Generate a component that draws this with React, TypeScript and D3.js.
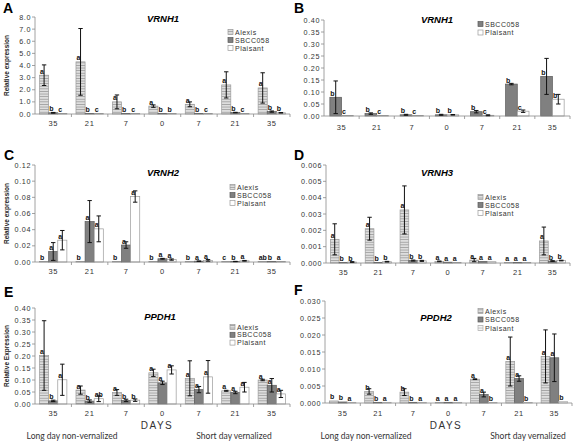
import React from "react";
import * as d3 from "d3";

const DAYS = ["35", "21", "7", "0", "7", "21", "35"];

// Panel A: VRNH1
const A_ALEXIS = [3.2, 4.3, 1.0, 0.65, 0.8, 2.4, 2.15];
const A_ALEXIS_ERR = [0.85, 2.75, 0.57, 0.1, 0.2, 1.08, 1.25];
const A_SBCC = [0.1, 0.02, 0.02, 0.02, 0.02, 0.12, 0.2];
const A_SBCC_ERR = [0.03, 0, 0, 0, 0, 0.02, 0.05];
const A_PLAISANT = [0.02, 0.02, 0.02, 0.02, 0.02, 0.02, 0.1];
const A_PLAISANT_ERR = [0, 0, 0, 0, 0, 0, 0.02];
const A_L_ALEXIS = ["a", "a", "a", "a", "a", "a", "a"];
const A_L_SBCC = ["b", "b", "b", "b", "b", "b", "b"];
const A_L_PLAISANT = ["c", "c", "c", "b", "c", "c", "b"];

// Panel B: VRNH1 (zoom)
const B_SBCC = [0.078, 0.01, 0.005, 0.005, 0.018, 0.133, 0.165];
const B_SBCC_ERR = [0.068, 0.003, 0.002, 0.002, 0.005, 0.003, 0.075];
const B_PLAISANT = [0.001, 0.001, 0.001, 0.005, 0.003, 0.02, 0.07];
const B_PLAISANT_ERR = [0, 0, 0, 0.001, 0.002, 0.005, 0.02];
const B_L_SBCC = ["b", "b", "b", "b", "b", "b", "b"];
const B_L_PLAISANT = ["c", "c", "c", "b", "c", "c", "b"];

// Panel C: VRNH2
const C_ALEXIS = [0.0004, 0.0004, 0.0004, 0.0004, 0.0003, 0.0003, 0.0003];
const C_ALEXIS_ERR = [0, 0, 0, 0, 0, 0, 0];
const C_SBCC = [0.013, 0.05, 0.021, 0.004, 0.001, 0.0006, 0.0003];
const C_SBCC_ERR = [0.011, 0.026, 0.004, 0.0005, 0.0003, 0.0002, 0];
const C_PLAISANT = [0.027, 0.041, 0.081, 0.003, 0.002, 0.0015, 0.0004];
const C_PLAISANT_ERR = [0.012, 0.016, 0.007, 0.0008, 0.001, 0.0004, 0];
const C_L_ALEXIS = ["b", "b", "b", "b", "b", "c", "ab"];
const C_L_SBCC = ["a", "a", "a", "a", "a", "b", "b"];
const C_L_PLAISANT = ["a", "a", "a", "a", "a", "a", "a"];

// Panel D: VRNH3
const D_ALEXIS = [0.00145, 0.0021, 0.00325, 0.0001, 0.00018, 0.00004, 0.00135];
const D_ALEXIS_ERR = [0.00095, 0.0007, 0.00147, 0.00002, 0.0001, 0, 0.00085];
const D_SBCC = [0.00003, 0.00003, 0.00015, 0.00005, 0.0001, 0.00003, 0.00012];
const D_SBCC_ERR = [0, 0, 0.00003, 0, 0, 0, 0.00002];
const D_PLAISANT = [0.00006, 0.00008, 0.00013, 0.00004, 0.00008, 0.00003, 0.00015];
const D_PLAISANT_ERR = [0.00002, 0.00002, 0.00003, 0, 0, 0, 0.00002];
const D_L_ALEXIS = ["a", "a", "a", "a", "a", "a", "a"];
const D_L_SBCC = ["b", "b", "b", "a", "a", "a", "b"];
const D_L_PLAISANT = ["b", "b", "b", "a", "a", "a", "b"];

// Panel E: PPDH1
const E_ALEXIS = [0.202, 0.058, 0.048, 0.13, 0.107, 0.055, 0.1];
const E_ALEXIS_ERR = [0.145, 0.017, 0.012, 0.015, 0.073, 0.002, 0.003];
const E_SBCC = [0.013, 0.012, 0.015, 0.088, 0.06, 0.048, 0.078];
const E_SBCC_ERR = [0.003, 0.005, 0.005, 0.007, 0.013, 0.005, 0.028];
const E_PLAISANT = [0.101, 0.022, 0.016, 0.142, 0.113, 0.07, 0.042];
const E_PLAISANT_ERR = [0.065, 0.012, 0.005, 0.017, 0.068, 0.02, 0.015];
const E_L_ALEXIS = ["a", "a", "a", "a", "a", "a", "a"];
const E_L_SBCC = ["b", "b", "b", "a", "a", "a", "a"];
const E_L_PLAISANT = ["a", "ab", "b", "a", "a", "a", "a"];

// Panel F: PPDH2
const F_ALEXIS = [0.0006, 0.0034, 0.0032, 0.0002, 0.007, 0.0122, 0.0137];
const F_ALEXIS_ERR = [0, 0.0008, 0.001, 0, 0.0001, 0.0072, 0.0078];
const F_SBCC = [0.0003, 0.0002, 0.0002, 0.0002, 0.0025, 0.0072, 0.0133];
const F_SBCC_ERR = [0, 0, 0, 0, 0.0007, 0.0008, 0.007];
const F_PLAISANT = [0.0002, 0.0002, 0.0002, 0.0002, 0.0001, 0.0001, 0.0004];
const F_PLAISANT_ERR = [0, 0, 0, 0, 0, 0, 0];
const F_L_ALEXIS = ["b", "b", "b", "a", "a", "a", "a"];
const F_L_SBCC = ["b", "b", "b", "a", "a", "a", "a"];
const F_L_PLAISANT = ["a", "a", "a", "a", "b", "b", "b"];

const STYLE: Record<string, { fill: string; stroke: string }> = {
  Alexis: { fill: "url(#stripe)", stroke: "#9a9a9a" },
  SBCC058: { fill: "#808080", stroke: "#5a5a5a" },
  Plaisant: { fill: "#ffffff", stroke: "#9a9a9a" },
  PlaisantF: { fill: "url(#stripeLight)", stroke: "#b0b0b0" },
};

type Series = { name: string; style: string; values: number[]; errs: number[]; letters: string[] };
type Cfg = {
  letter: string; lx: number; ly: number;
  title: string; tx: number; ty: number;
  x0: number; x1: number; yTop: number; yBot: number;
  max: number; step: number; fmt: string;
  catY: number;
  legX: number; legY: number; legDy: number;
  yTitle?: string; yTitleX?: number;
  series: Series[];
  bottom?: { daysX: number; ldX: number; sdX: number };
};

const mk = (name: string, values: number[], errs: number[], letters: string[], style?: string): Series => ({
  name, values, errs, letters, style: style || name,
});

const PANELS: Cfg[] = [
  {
    letter: "A", lx: 3, ly: 13, title: "VRNH1", tx: 163, ty: 22,
    x0: 35, x1: 290, yTop: 17, yBot: 114, max: 8, step: 1, fmt: ".1f", catY: 126,
    legX: 228, legY: 32, legDy: 8, yTitle: "Relative expression", yTitleX: 9,
    series: [
      mk("Alexis", A_ALEXIS, A_ALEXIS_ERR, A_L_ALEXIS),
      mk("SBCC058", A_SBCC, A_SBCC_ERR, A_L_SBCC),
      mk("Plaisant", A_PLAISANT, A_PLAISANT_ERR, A_L_PLAISANT),
    ],
  },
  {
    letter: "B", lx: 294, ly: 13, title: "VRNH1", tx: 437, ty: 23,
    x0: 324, x1: 570, yTop: 20, yBot: 116, max: 0.4, step: 0.05, fmt: ".2f", catY: 130,
    legX: 478, legY: 24, legDy: 8.5,
    series: [
      mk("SBCC058", B_SBCC, B_SBCC_ERR, B_L_SBCC),
      mk("Plaisant", B_PLAISANT, B_PLAISANT_ERR, B_L_PLAISANT),
    ],
  },
  {
    letter: "C", lx: 4, ly: 160, title: "VRNH2", tx: 163, ty: 176,
    x0: 35, x1: 290, yTop: 165, yBot: 262, max: 0.12, step: 0.02, fmt: ".2f", catY: 274,
    legX: 230, legY: 187, legDy: 8, yTitle: "Relative expression", yTitleX: 9,
    series: [
      mk("Alexis", C_ALEXIS, C_ALEXIS_ERR, C_L_ALEXIS),
      mk("SBCC058", C_SBCC, C_SBCC_ERR, C_L_SBCC),
      mk("Plaisant", C_PLAISANT, C_PLAISANT_ERR, C_L_PLAISANT),
    ],
  },
  {
    letter: "D", lx: 294, ly: 160, title: "VRNH3", tx: 437, ty: 176,
    x0: 326, x1: 570, yTop: 165, yBot: 263, max: 0.006, step: 0.001, fmt: ".3f", catY: 275,
    legX: 478, legY: 197, legDy: 8,
    series: [
      mk("Alexis", D_ALEXIS, D_ALEXIS_ERR, D_L_ALEXIS),
      mk("SBCC058", D_SBCC, D_SBCC_ERR, D_L_SBCC),
      mk("Plaisant", D_PLAISANT, D_PLAISANT_ERR, D_L_PLAISANT),
    ],
  },
  {
    letter: "E", lx: 4, ly: 297, title: "PPDH1", tx: 160, ty: 320,
    x0: 35, x1: 290, yTop: 308, yBot: 404, max: 0.4, step: 0.05, fmt: ".2f", catY: 416,
    legX: 230, legY: 327, legDy: 7.8, yTitle: "Relative Expression", yTitleX: 9,
    series: [
      mk("Alexis", E_ALEXIS, E_ALEXIS_ERR, E_L_ALEXIS),
      mk("SBCC058", E_SBCC, E_SBCC_ERR, E_L_SBCC),
      mk("Plaisant", E_PLAISANT, E_PLAISANT_ERR, E_L_PLAISANT),
    ],
    bottom: { daysX: 157, ldX: 72, sdX: 234 },
  },
  {
    letter: "F", lx: 294, ly: 295, title: "PPDH2", tx: 436, ty: 321,
    x0: 325, x1: 572, yTop: 301, yBot: 403, max: 0.03, step: 0.005, fmt: ".3f", catY: 416,
    legX: 478, legY: 311, legDy: 8.5,
    series: [
      mk("Alexis", F_ALEXIS, F_ALEXIS_ERR, F_L_ALEXIS),
      mk("SBCC058", F_SBCC, F_SBCC_ERR, F_L_SBCC),
      mk("Plaisant", F_PLAISANT, F_PLAISANT_ERR, F_L_PLAISANT, "PlaisantF"),
    ],
    bottom: { daysX: 446, ldX: 366, sdX: 528 },
  },
];

const TICK_FONT = "'Liberation Sans', Arial, sans-serif";

function Panel({ cfg }: { cfg: Cfg }) {
  const idx = d3.range(DAYS.length);
  const x = d3.scaleBand<number>().domain(idx).range([cfg.x0, cfg.x1]);
  const band = x.bandwidth();
  const names = cfg.series.map((s) => s.name);
  const barW = band / (names.length + 1);
  const inner = d3.scaleBand<string>().domain(names).range([barW / 2, band - barW / 2]);
  const y = d3.scaleLinear().domain([0, cfg.max]).range([cfg.yBot, cfg.yTop]);
  const ticks = d3.range(0, cfg.max + cfg.step / 2, cfg.step);
  const fmt = d3.format(cfg.fmt);
  const axisColor = "#8a8a8a";

  return (
    <g>
      <text x={cfg.lx} y={cfg.ly} fontFamily={TICK_FONT} fontWeight="bold" fontSize={14}>{cfg.letter}</text>
      <text x={cfg.tx} y={cfg.ty} textAnchor="middle" fontFamily={TICK_FONT} fontWeight="bold" fontStyle="italic" fontSize={9.5}>{cfg.title}</text>
      {cfg.yTitle && (
        <text transform={`translate(${cfg.yTitleX},${(cfg.yTop + cfg.yBot) / 2}) rotate(-90)`} textAnchor="middle"
          fontFamily={TICK_FONT} fontWeight="bold" fontSize={6.5} fill="#222">{cfg.yTitle}</text>
      )}
      {/* y axis */}
      <line x1={cfg.x0} x2={cfg.x0} y1={cfg.yTop} y2={cfg.yBot} stroke={axisColor} strokeWidth={0.8} />
      {ticks.map((t) => (
        <g key={t}>
          <line x1={cfg.x0 - 3} x2={cfg.x0} y1={y(t)} y2={y(t)} stroke={axisColor} strokeWidth={0.8} />
          <text x={cfg.x0 - 4} y={y(t) + 2.5} textAnchor="end" fontFamily={TICK_FONT} fontSize={7.2} letterSpacing={0.6} fill="#333">{fmt(t)}</text>
        </g>
      ))}
      {/* bars */}
      {cfg.series.map((s) => (
        <g key={s.name}>
          {s.values.map((v, i) => {
            const bx = (x(i) as number) + (inner(s.name) as number);
            const top = y(v);
            const h = Math.max(cfg.yBot - top, 0.6);
            const st = STYLE[s.style];
            return (
              <rect key={i} x={bx} y={cfg.yBot - h} width={inner.bandwidth()} height={h} fill={st.fill} stroke={st.stroke} strokeWidth={0.7} />
            );
          })}
        </g>
      ))}
      {/* x axis */}
      <line x1={cfg.x0} x2={cfg.x1} y1={cfg.yBot} y2={cfg.yBot} stroke={axisColor} strokeWidth={0.8} />
      {idx.map((i) => (
        <line key={i} x1={(x(i) as number) + band} x2={(x(i) as number) + band} y1={cfg.yBot} y2={cfg.yBot + 3} stroke={axisColor} strokeWidth={0.8} />
      ))}
      {DAYS.map((d, i) => (
        <text key={i} x={(x(i) as number) + band / 2} y={cfg.catY} textAnchor="middle" fontFamily={TICK_FONT} fontSize={7.5} letterSpacing={0.6} fill="#333">{d}</text>
      ))}
      {/* error bars + letters */}
      {cfg.series.map((s) => (
        <g key={s.name + "e"}>
          {s.values.map((v, i) => {
            const e = s.errs[i];
            if (!e) return null;
            const cx = (x(i) as number) + (inner(s.name) as number) + inner.bandwidth() / 2;
            const y1 = y(v + e);
            const y2 = y(Math.max(v - e, 0));
            return (
              <g key={i} stroke="#111" strokeWidth={1}>
                <line x1={cx} x2={cx} y1={y1} y2={y2} />
                <line x1={cx - 2.2} x2={cx + 2.2} y1={y1} y2={y1} />
                <line x1={cx - 2.2} x2={cx + 2.2} y1={y2} y2={y2} />
              </g>
            );
          })}
          {s.letters.map((l, i) => {
            const bx = (x(i) as number) + (inner(s.name) as number);
            return (
              <text key={i} x={bx + 0.5} y={y(s.values[i]) - 1.5} fontFamily={TICK_FONT} fontWeight="bold" fontSize={7} fill="#111">{l}</text>
            );
          })}
        </g>
      ))}
      {/* legend */}
      {cfg.series.map((s, k) => {
        const st = STYLE[s.style];
        const ly = cfg.legY + k * cfg.legDy;
        return (
          <g key={s.name + "l"}>
            <rect x={cfg.legX} y={ly - 2.5} width={5} height={5} fill={st.fill} stroke={st.stroke} strokeWidth={0.7} />
            <text x={cfg.legX + 7} y={ly + 2.5} fontFamily={TICK_FONT} fontSize={7} letterSpacing={0.5} fill="#333">{s.name}</text>
          </g>
        );
      })}
      {cfg.bottom && (
        <g fill="#333">
          <text x={cfg.bottom.daysX} y={429} textAnchor="middle" fontFamily={TICK_FONT} fontSize={10} letterSpacing={1.5}>DAYS</text>
          <text x={cfg.bottom.ldX} y={439} textAnchor="middle" fontFamily="Lato, 'Open Sans', sans-serif" fontSize={8.5}>Long day non-vernalized</text>
          <text x={cfg.bottom.sdX} y={439} textAnchor="middle" fontFamily="Lato, 'Open Sans', sans-serif" fontSize={8.5}>Short day vernalized</text>
        </g>
      )}
    </g>
  );
}

export default function App() {
  return (
    <svg width={576} height={441} style={{ position: "absolute", left: 0, top: 0, background: "#fff" }}>
      <defs>
        <pattern id="stripe" width={4} height={2.6} patternUnits="userSpaceOnUse">
          <rect width={4} height={2.6} fill="#dedede" />
          <rect width={4} height={0.8} fill="#9c9c9c" />
        </pattern>
        <pattern id="stripeLight" width={4} height={2.6} patternUnits="userSpaceOnUse">
          <rect width={4} height={2.6} fill="#f4f4f4" />
          <rect width={4} height={0.8} fill="#bdbdbd" />
        </pattern>
      </defs>
      <rect width={576} height={441} fill="#fff" />
      {PANELS.map((p) => (
        <Panel key={p.letter} cfg={p} />
      ))}
    </svg>
  );
}
